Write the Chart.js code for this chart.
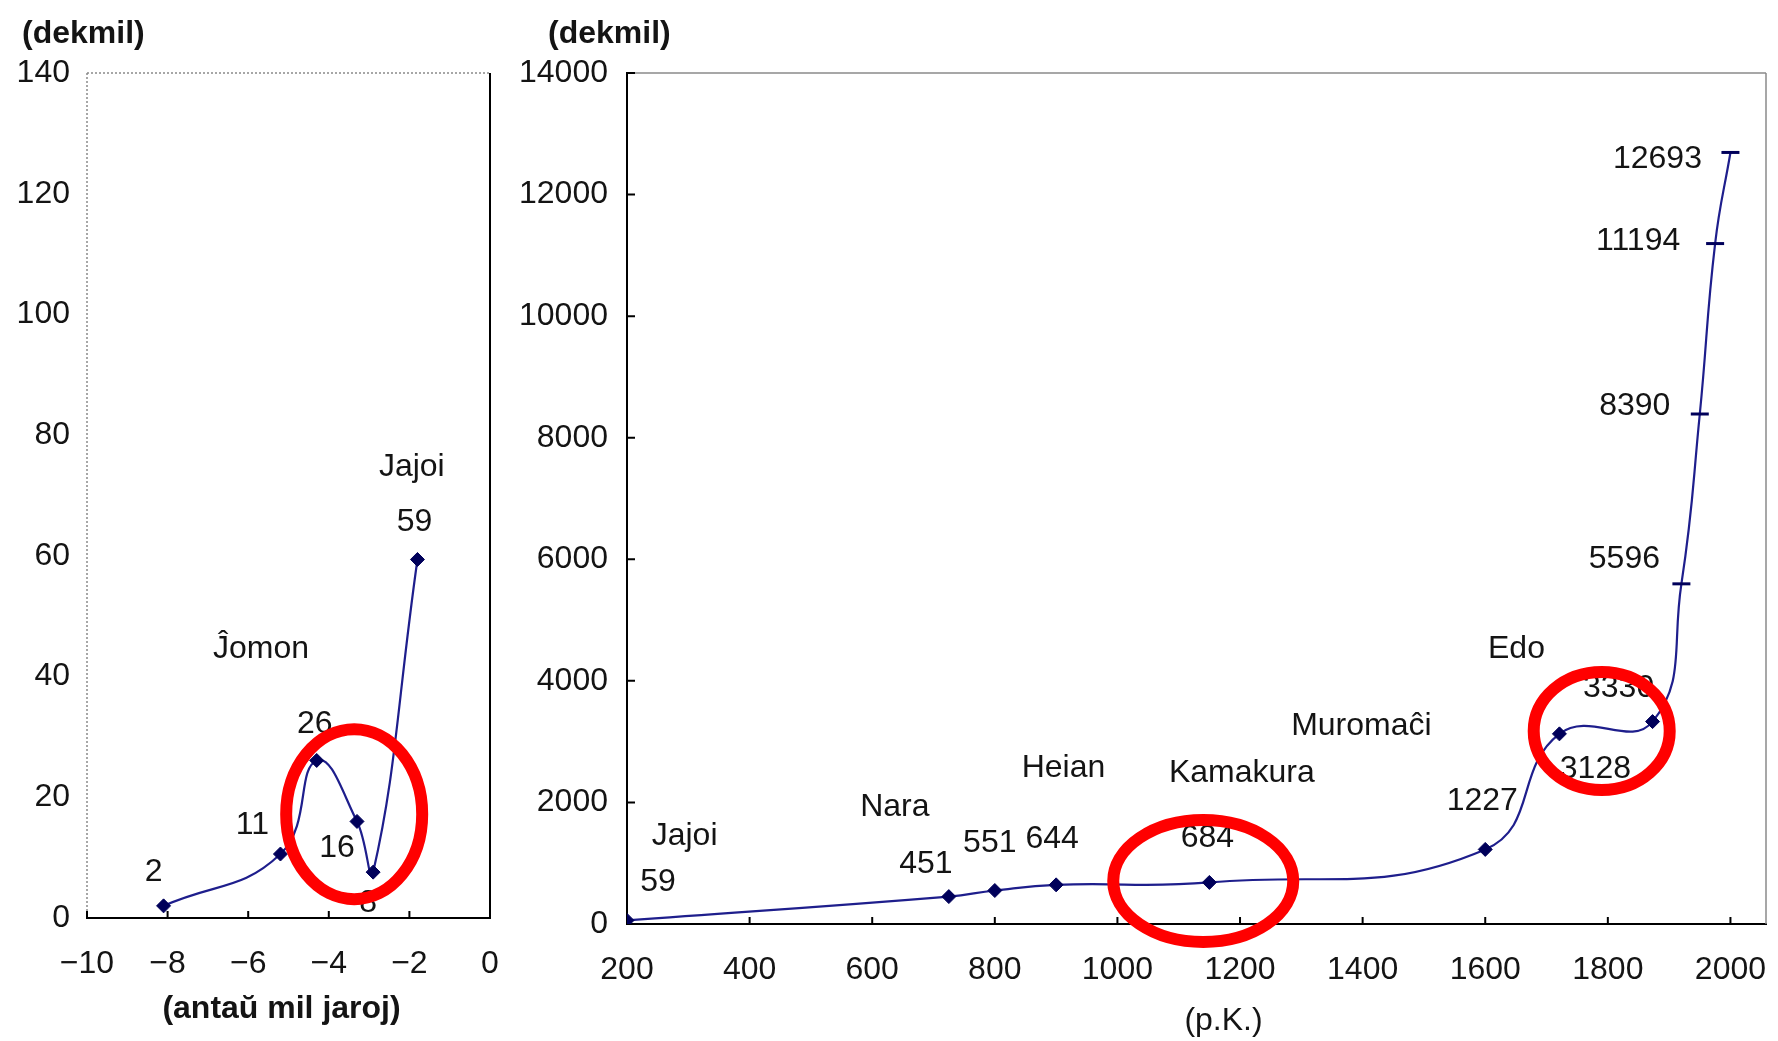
<!DOCTYPE html>
<html>
<head>
<meta charset="utf-8">
<title>Loĝantaro de Japanio</title>
<script src="https://cdn.jsdelivr.net/npm/chart.js@4.4.0/dist/chart.umd.min.js"></script>
<style>
  html, body { margin: 0; padding: 0; background: #fff; overflow: hidden; }
  #leftBox { position: absolute; left: 0; top: 0; width: 500px; height: 1041px; }
  #rightBox { position: absolute; left: 500px; top: 0; width: 1278px; height: 1041px; }
</style>
</head>
<body>
<div id="leftBox"><canvas id="ancientChart"></canvas></div>
<div id="rightBox"><canvas id="historicChart"></canvas></div>
<script>
const FONT = '"Liberation Sans", Arial, sans-serif';
const NAVY = '#1e1e8c';
const MARK = '#00005a';
const INK = '#141414';

// left panel: thousands of years before present -> dekmil (10 000 people)
const ancientYears = [-8.1, -5.2, -4.3, -3.3, -2.9, -1.8];
const ancientPop = [2.01, 10.6, 26.1, 16.0, 7.6, 59.4];
const ancientXTicks = [-10, -8, -6, -4, -2, 0];
const ancientYTicks = [0, 20, 40, 60, 80, 100, 120, 140];
const ancientPeriods = ['Ĵomon', 'Jajoi'];
const ancientPeriodAt = [[-5.68, 44.6], [-1.94, 74.7]];

// right panel: year A.D. -> dekmil
const historicYears = [200, 725, 800, 900, 1150, 1600, 1721, 1873, 1920, 1950, 1975, 2000];
const historicPop = [59, 451, 551, 644, 684, 1227, 3128, 3330, 5596, 8390, 11194, 12693];
const historicXTicks = [200, 400, 600, 800, 1000, 1200, 1400, 1600, 1800, 2000];
const historicYTicks = [0, 2000, 4000, 6000, 8000, 10000, 12000, 14000];
const historicPeriods = ['Jajoi', 'Nara', 'Heian', 'Kamakura', 'Muromaĉi', 'Edo'];
const historicPeriodAt = [[294, 1448], [637, 1925], [912, 2566], [1203, 2484], [1398, 3257], [1651, 4524]];

// where the value labels sit next to their points (pixels)
const ancientLabelShift = [[-10, -34], [-28, -29], [-2, -36], [-20, 27], [-5, 31], [-3, -37]];
const historicLabelShift = [[31, -38], [-23, -32], [-5, -47], [-4, -46], [-2, -44], [-3, -48],
  [36, 35], [-34, -33], [-57, -25], [-65, -8], [-77, -2], [-73, 7]];

// red highlight rings (centre in data units, radii in pixels)
const ancientRings = [{ x: -3.37, y: 17.2, rx: 68, ry: 85 }];
const historicRings = [{ x: 1140, y: 707, rx: 90, ry: 61 }, { x: 1790, y: 3175, rx: 68, ry: 59 }];

function fmt(v) {
    return v < 0 ? '\u2212' + Math.abs(v) : String(v);
}

const decor = {
    id: 'decor',
    beforeDatasetsDraw(chart, args, o) {
        const { ctx, chartArea: a } = chart;
        ctx.save();
        // plot frame
        ctx.lineWidth = 1.5;
        ctx.strokeStyle = o.frameColor;
        ctx.setLineDash(o.frameDash);
        ctx.beginPath();
        o.frameSides.forEach(side => {
            if (side === 'top') { ctx.moveTo(a.left, a.top); ctx.lineTo(a.right, a.top); }
            if (side === 'left') { ctx.moveTo(a.left, a.top); ctx.lineTo(a.left, a.bottom); }
            if (side === 'right') { ctx.moveTo(a.right, a.top); ctx.lineTo(a.right, a.bottom); }
        });
        ctx.stroke();
        ctx.setLineDash([]);
        if (o.rightAxis) {
            ctx.strokeStyle = '#000';
            ctx.lineWidth = 2;
            ctx.beginPath();
            ctx.moveTo(a.right, a.top);
            ctx.lineTo(a.right, a.bottom);
            ctx.stroke();
        }
        // tick marks pointing into the plot
        ctx.strokeStyle = '#000';
        ctx.lineWidth = 2;
        ctx.beginPath();
        chart.scales.x.ticks.forEach(t => {
            const px = chart.scales.x.getPixelForValue(t.value);
            ctx.moveTo(px, a.bottom);
            ctx.lineTo(px, a.bottom - 7);
        });
        if (o.yTicks) {
            chart.scales.y.ticks.forEach(t => {
                const py = chart.scales.y.getPixelForValue(t.value);
                ctx.moveTo(a.left, py);
                ctx.lineTo(a.left + 8, py);
            });
        }
        ctx.stroke();
        ctx.restore();
    },
    afterDatasetsDraw(chart, args, o) {
        const { ctx, chartArea: a, scales: { x, y } } = chart;
        ctx.save();
        ctx.fillStyle = INK;
        ctx.textAlign = 'center';
        ctx.textBaseline = 'middle';
        ctx.font = '32px ' + FONT;
        // value labels
        const meta = chart.getDatasetMeta(0);
        meta.data.forEach((pt, i) => {
            const s = o.shifts[i];
            const v = chart.data.datasets[0].data[i].y;
            ctx.fillText(String(Math.round(v)), pt.x + s[0], pt.y + s[1]);
        });
        // period names
        o.periods.forEach((name, i) => {
            const p = o.periodAt[i];
            ctx.fillText(name, x.getPixelForValue(p[0]), y.getPixelForValue(p[1]));
        });
        // axis titles
        ctx.font = 'bold 32px ' + FONT;
        ctx.textAlign = 'left';
        ctx.fillText('(dekmil)', a.left + o.unitDx, a.top - 39);
        ctx.textAlign = 'center';
        ctx.font = o.xTitleBold ? 'bold 32px ' + FONT : '32px ' + FONT;
        ctx.fillText(o.xTitle, (a.left + a.right) / 2 + o.xTitleDx, a.bottom + o.xTitleDy);
        // red rings
        ctx.strokeStyle = '#ff0000';
        ctx.lineWidth = 12;
        o.rings.forEach(r => {
            ctx.beginPath();
            ctx.ellipse(x.getPixelForValue(r.x), y.getPixelForValue(r.y), r.rx, r.ry, 0, 0, Math.PI * 2);
            ctx.stroke();
        });
        ctx.restore();
    }
};

function makeChart(canvasId, cfg) {
    const points = cfg.xs.map((v, i) => ({ x: v, y: cfg.ys[i] }));
    return new Chart(document.getElementById(canvasId), {
        type: 'line',
        data: {
            datasets: [{
                data: points,
                borderColor: NAVY,
                borderWidth: 2.2,
                tension: 0.45,
                pointStyle: c => c.dataIndex >= cfg.dashFrom ? 'line' : 'rectRot',
                pointRadius: c => c.dataIndex >= cfg.dashFrom ? 9 : 7,
                pointBorderWidth: c => c.dataIndex >= cfg.dashFrom ? 3 : 1,
                pointBackgroundColor: MARK,
                pointBorderColor: MARK
            }]
        },
        options: {
            responsive: true,
            maintainAspectRatio: false,
            animation: false,
            layout: { padding: { top: 73, right: cfg.padRight, left: 0, bottom: 0 } },
            plugins: {
                legend: { display: false },
                tooltip: { enabled: false },
                decor: cfg.decor
            },
            scales: {
                x: {
                    type: 'linear',
                    min: cfg.xMin,
                    max: cfg.xMax,
                    afterBuildTicks: s => { s.ticks = cfg.xTicks.map(v => ({ value: v })); },
                    afterFit: s => { s.height = cfg.xHeight; s.paddingLeft = 0; s.paddingRight = 0; },
                    grid: { display: false, drawTicks: false },
                    border: { display: true, color: '#000', width: 2 },
                    ticks: {
                        padding: 27,
                        color: INK,
                        font: { family: FONT, size: 32 },
                        maxRotation: 0,
                        autoSkip: false,
                        callback: fmt
                    }
                },
                y: {
                    min: 0,
                    max: cfg.yMax,
                    afterBuildTicks: s => { s.ticks = cfg.yTicks.map(v => ({ value: v })); },
                    afterFit: s => { s.width = cfg.yWidth; s.paddingTop = 0; s.paddingBottom = 0; },
                    grid: { display: false, drawTicks: false },
                    border: { display: cfg.yBorder, color: '#000', width: 2 },
                    ticks: {
                        padding: cfg.yPad,
                        color: INK,
                        font: { family: FONT, size: 32 },
                        autoSkip: false,
                        callback: fmt
                    }
                }
            }
        },
        plugins: [decor]
    });
}

makeChart('ancientChart', {
    xs: ancientYears, ys: ancientPop,
    xMin: -10, xMax: 0, yMax: 140,
    xTicks: ancientXTicks, yTicks: ancientYTicks,
    xHeight: 1041 - 918, yWidth: 87, yPad: 17, padRight: 10,
    yBorder: false, dashFrom: 99,
    decor: {
        frameColor: '#8a8a8a', frameDash: [2, 2], frameSides: ['top', 'left'],
        rightAxis: true, yTicks: false,
        shifts: ancientLabelShift,
        periods: ancientPeriods, periodAt: ancientPeriodAt,
        unitDx: -65, xTitle: '(antaŭ mil jaroj)', xTitleBold: true, xTitleDx: -7, xTitleDy: 91,
        rings: ancientRings
    }
});

makeChart('historicChart', {
    xs: historicYears, ys: historicPop,
    xMin: 200, xMax: 2058, yMax: 14000,
    xTicks: historicXTicks, yTicks: historicYTicks,
    xHeight: 1041 - 924, yWidth: 127, yPad: 19, padRight: 2,
    yBorder: true, dashFrom: 8,
    decor: {
        frameColor: '#8a8a8a', frameDash: [], frameSides: ['top', 'right'],
        rightAxis: false, yTicks: true,
        shifts: historicLabelShift,
        periods: historicPeriods, periodAt: historicPeriodAt,
        unitDx: -79, xTitle: '(p.K.)', xTitleBold: false, xTitleDx: 27, xTitleDy: 97,
        rings: historicRings
    }
});
</script>
</body>
</html>
